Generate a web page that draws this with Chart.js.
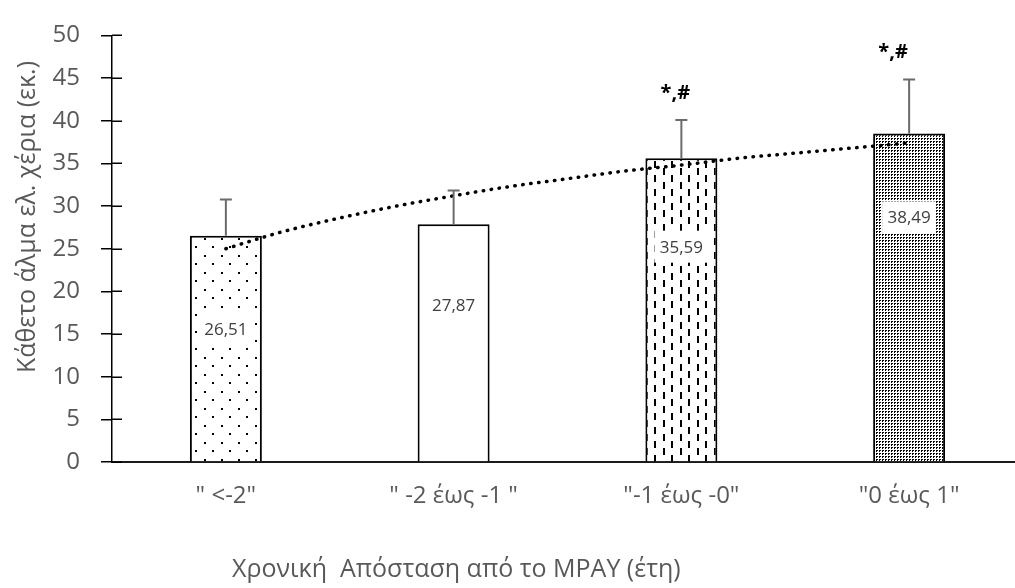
<!DOCTYPE html>
<html>
<head>
<meta charset="utf-8">
<script src="https://cdn.jsdelivr.net/npm/chart.js@4/dist/chart.umd.min.js"></script>
<style>
  html, body { margin: 0; padding: 0; background: #fff; overflow: hidden; }
  #wrap { width: 1023px; height: 588px; }
</style>
</head>
<body>
<div id="wrap"><canvas id="c" width="1023" height="588"></canvas></div>
<script>
// Age groups relative to peak height velocity
const categories = ['" <-2"', '" -2 έως -1 "', '"-1 έως -0"', '"0 έως 1"'];
// Mean vertical jump (cm) and standard deviation per group
const means = [26.51, 27.87, 35.59, 38.49];
const sds = [4.25, 3.95, 4.5, 6.35];
// Significance markers above each bar
const marks = ['', '', '*,#', '*,#'];
// Logarithmic trend curve, group index vs jump height
const trendX = [1, 1.25, 1.5, 1.75, 2, 2.25, 2.5, 2.75, 3, 3.25, 3.5, 3.75, 4];
const trendY = [25.0, 27.0, 28.6, 30.0, 31.2, 32.3, 33.2, 34.1, 34.8, 35.6, 36.2, 36.8, 37.4];
// Y axis ticks
const yTicks = [0, 5, 10, 15, 20, 25, 30, 35, 40, 45, 50];
// Axis titles
const xTitle = 'Χρονική  Απόσταση από το ΜΡΑΥ (έτη)';
const yTitle = 'Κάθετο άλμα ελ. χέρια (εκ.)';

const FONT = '"Open Sans", "Noto Sans", sans-serif';

function makePattern(w, h, draw) {
  const c = document.createElement('canvas');
  c.width = w; c.height = h;
  const g = c.getContext('2d');
  g.fillStyle = '#fff';
  g.fillRect(0, 0, w, h);
  g.fillStyle = '#000';
  draw(g);
  return g.createPattern(c, 'repeat');
}

const ctx = document.getElementById('c').getContext('2d');

const sparseDots = makePattern(17, 17, g => { g.fillRect(0, 0, 2, 2); g.fillRect(8, 8, 2, 2); });
const dashes = makePattern(17, 14, g => { g.fillRect(0, 0, 2, 7); g.fillRect(8, 7, 2, 7); });
const denseDots = makePattern(3, 3, g => { g.fillRect(0, 0, 2, 1); g.fillRect(0, 1, 1, 1); });
const fills = [sparseDots, '#ffffff', dashes, denseDots];

const extras = {
  id: 'extras',
  afterDatasetsDraw(chart, args, opts) {
    const c = chart.ctx;
    const y = chart.scales.y;
    const meta = chart.getDatasetMeta(1);
    c.save();
    c.textAlign = 'center';
    c.textBaseline = 'middle';
    meta.data.forEach((bar, i) => {
      // value label on a white box
      const yc = y.getPixelForValue(means[i] * opts.labelRise[i]);
      c.fillStyle = '#fff';
      c.fillRect(bar.x - 27, yc - 16, 54, 32);
      c.fillStyle = '#404040';
      c.font = '17px ' + FONT;
      c.fillText(means[i].toFixed(2).replace('.', ','), bar.x, yc + 1);
      // error bar (upper half)
      const y0 = y.getPixelForValue(means[i]);
      const y1 = y.getPixelForValue(means[i] + sds[i]);
      c.strokeStyle = '#6b6b6b';
      c.lineWidth = 2;
      c.beginPath();
      c.moveTo(bar.x, y0);
      c.lineTo(bar.x, y1);
      c.moveTo(bar.x - 6, y1);
      c.lineTo(bar.x + 6, y1);
      c.stroke();
      // significance marker
      if (marks[i]) {
        c.fillStyle = '#000';
        c.font = 'bold 20px ' + FONT;
        c.fillText(marks[i], bar.x + opts.markShift[i], y1 - 27);
      }
    });
    c.restore();
  },
  afterDraw(chart, args, opts) {
    const c = chart.ctx;
    const y = chart.scales.y;
    c.save();
    // tick marks crossing into the plot area
    c.strokeStyle = '#000';
    c.lineWidth = 1.5;
    c.beginPath();
    yTicks.forEach(v => {
      const p = Math.round(y.getPixelForValue(v)) + 0.25;
      c.moveTo(y.right, p);
      c.lineTo(y.right + 10, p);
    });
    c.stroke();
    // axis titles
    c.fillStyle = '#595959';
    c.font = opts.titleSize + 'px ' + FONT;
    c.textBaseline = 'middle';
    c.textAlign = 'left';
    c.fillText(xTitle, opts.xTitleAt[0], opts.xTitleAt[1]);
    c.translate(opts.yTitleAt[0], opts.yTitleAt[1]);
    c.rotate(-Math.PI / 2);
    c.textAlign = 'center';
    c.fillText(yTitle, 0, 0);
    c.restore();
  }
};

new Chart(ctx, {
  data: {
    labels: categories,
    datasets: [
      {
        type: 'line',
        order: 0,
        xAxisID: 'x2',
        data: trendX.map((x, i) => ({ x: x, y: trendY[i] })),
        borderColor: '#000',
        borderWidth: 3.5,
        borderDash: [0.5, 7.5],
        borderCapStyle: 'round',
        pointRadius: 0,
        cubicInterpolationMode: 'monotone',
        fill: false
      },
      {
        type: 'bar',
        order: 1,
        xAxisID: 'x',
        data: means,
        backgroundColor: fills,
        borderColor: '#000',
        borderWidth: 2,
        grouped: false,
        barPercentage: 0.316,
        categoryPercentage: 1
      }
    ]
  },
  options: {
    responsive: false,
    animation: false,
    devicePixelRatio: 1,
    layout: { padding: { left: 0, top: 28, right: 0, bottom: 0 } },
    plugins: {
      legend: { display: false },
      tooltip: { enabled: false },
      extras: {
        labelRise: [0.587, 0.661, 0.709, 0.745],
        markShift: [0, 0, -6, -16],
        titleSize: 25,
        xTitleAt: [232, 570],
        yTitleAt: [28, 217]
      }
    },
    scales: {
      x: {
        type: 'category',
        offset: true,
        grid: { display: false, drawTicks: false },
        border: { display: true, color: '#1a1a1a', width: 2 },
        ticks: { color: '#595959', font: { family: FONT, size: 24 }, padding: 20, maxRotation: 0 },
        afterFit(scale) { scale.height = 126; }
      },
      x2: {
        type: 'linear',
        display: false,
        min: 0.5,
        max: 4.5
      },
      y: {
        min: 0,
        max: 50,
        afterBuildTicks(scale) { scale.ticks = yTicks.map(v => ({ value: v })); },
        grid: { drawOnChartArea: false, color: '#000', lineWidth: 1.5, tickLength: 11 },
        border: { display: true, color: '#000', width: 1.5 },
        ticks: { color: '#595959', font: { family: FONT, size: 24 }, padding: 21 },
        afterFit(scale) { scale.width = 112; }
      }
    }
  },
  plugins: [extras]
});
</script>
</body>
</html>
